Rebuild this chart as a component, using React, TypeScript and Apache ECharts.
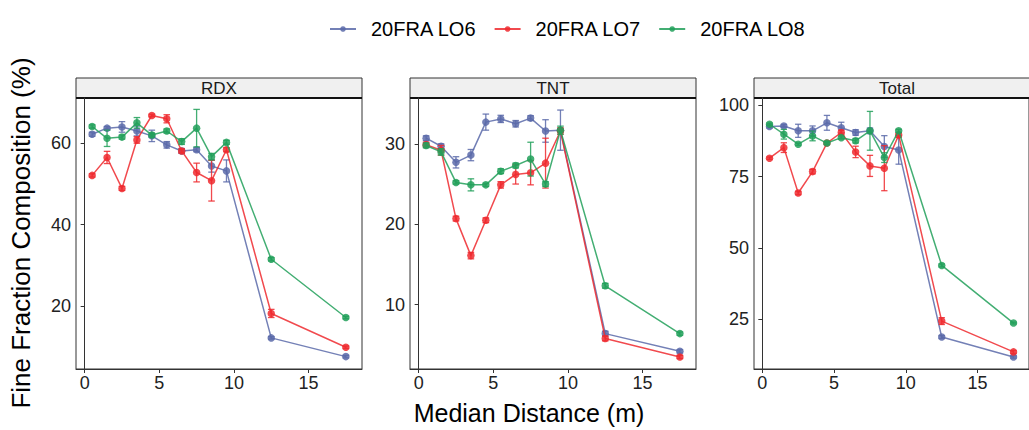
import React, { useEffect, useRef } from "react";
import * as echarts from "echarts";

const distances = [0.5, 1.5, 2.5, 3.5, 4.5, 5.5, 6.5, 7.5, 8.5, 9.5, 12.5, 17.5];
const seriesNames = ["20FRA LO6", "20FRA LO7", "20FRA LO8"];
const panelNames = ["RDX", "TNT", "Total"];
const xTicks = [0, 5, 10, 15];
const yTicksRdx = [20, 40, 60];
const yTicksTnt = [10, 20, 30];
const yTicksTotal = [25, 50, 75, 100];

// RDX
const lo6Rdx = [62.2, 63.7, 64.0, 63.0, 61.8, 59.6, 58.1, 58.4, 54.4, 53.2, 12.2, 7.6];
const lo6RdxErr = [0.5, 0.4, 1.3, 1.2, 1.4, 0.8, 0.6, 0.5, 1.5, 2.7, 0.3, 0.3];
const lo7Rdx = [52.1, 56.5, 48.9, 60.8, 66.8, 66.0, 58.1, 52.8, 50.8, 58.4, 18.2, 9.9];
const lo7RdxErr = [0.4, 1.5, 0.5, 0.8, 0.3, 1.0, 0.5, 2.3, 5.0, 0.5, 1.0, 0.3];
const lo8Rdx = [64.1, 61.2, 61.5, 65.0, 62.0, 63.0, 60.4, 63.7, 56.7, 60.2, 31.5, 17.2];
const lo8RdxErr = [0.4, 2.0, 0.5, 1.3, 0.5, 0.5, 0.7, 4.6, 0.8, 0.5, 0.4, 0.3];

// TNT
const lo6Tnt = [30.7, 29.7, 27.7, 28.6, 32.7, 33.1, 32.5, 33.2, 31.6, 31.7, 6.4, 4.2];
const lo6TntErr = [0.3, 0.3, 0.7, 0.7, 1.0, 0.45, 0.4, 0.3, 1.4, 2.5, 0.3, 0.2];
const lo7Tnt = [29.9, 29.2, 20.7, 16.1, 20.5, 24.9, 26.2, 26.4, 27.6, 31.6, 5.8, 3.5];
const lo7TntErr = [0.3, 0.6, 0.3, 0.4, 0.3, 0.4, 1.2, 1.5, 3.1, 0.4, 0.3, 0.2];
const lo8Tnt = [29.8, 29.0, 25.2, 24.9, 24.9, 26.6, 27.3, 28.1, 25.0, 31.7, 12.35, 6.4];
const lo8TntErr = [0.3, 0.4, 0.2, 0.75, 0.2, 0.3, 0.3, 2.1, 0.3, 0.5, 0.3, 0.2];

// Total
const lo6Tot = [92.6, 92.8, 91.1, 91.1, 93.9, 92.2, 90.5, 91.1, 85.6, 84.4, 18.8, 11.8];
const lo6TotErr = [0.5, 0.5, 2.3, 1.7, 2.6, 1.9, 1.0, 1.0, 3.8, 5.0, 0.5, 0.4];
const lo7Tot = [81.5, 85.2, 69.3, 76.8, 86.8, 90.5, 83.7, 78.8, 78.0, 89.6, 24.4, 13.6];
const lo7TotErr = [0.4, 1.7, 0.6, 0.8, 0.5, 0.8, 2.0, 3.7, 7.9, 0.8, 1.2, 0.5];
const lo8Tot = [93.4, 89.9, 86.4, 89.3, 86.8, 88.7, 87.6, 91.1, 81.7, 91.1, 43.9, 23.7];
const lo8TotErr = [0.4, 1.7, 0.4, 1.7, 0.5, 0.5, 0.8, 6.8, 1.7, 0.5, 0.5, 0.3];

const colors = ["#5b6aa9", "#ee2a2f", "#22a05a"];
const FONT = "'Liberation Sans', Arial, Helvetica, sans-serif";

const panels = [
  { vals: [lo6Rdx, lo7Rdx, lo8Rdx], errs: [lo6RdxErr, lo7RdxErr, lo8RdxErr], ymin: 4.56, ymax: 71.1, yticks: yTicksRdx },
  { vals: [lo6Tnt, lo7Tnt, lo8Tnt], errs: [lo6TntErr, lo7TntErr, lo8TntErr], ymin: 2.0, ymax: 35.7, yticks: yTicksTnt },
  { vals: [lo6Tot, lo7Tot, lo8Tot], errs: [lo6TotErr, lo7TotErr, lo8TotErr], ymin: 7.6, ymax: 102.6, yticks: yTicksTotal },
];

const gridLefts = [76, 410, 754];
const gridWidth = 286;
const gridTop = 98;
const gridHeight = 271;

export default function App() {
  const ref = useRef<HTMLDivElement>(null);
  useEffect(() => {
    if (!ref.current) return;
    const chart = echarts.init(ref.current, null, { renderer: "svg" });

    const grids = gridLefts.map((l) => ({
      left: l,
      top: gridTop,
      width: gridWidth,
      height: gridHeight,
      show: true,
      borderColor: "#333",
      borderWidth: 1,
      backgroundColor: "transparent",
    }));

    const xAxes = gridLefts.map((_, i) => ({
      type: "value",
      gridIndex: i,
      min: -0.58,
      max: 18.58,
      axisLine: { show: true, lineStyle: { color: "#333", width: 1 } },
      axisTick: { show: true, customValues: xTicks, length: 4, lineStyle: { color: "#333" } },
      axisLabel: { customValues: xTicks, fontSize: 18, color: "#222", margin: 5, fontFamily: FONT },
      splitLine: { show: false },
    }));

    const yAxes = panels.map((p, i) => ({
      type: "value",
      gridIndex: i,
      min: p.ymin,
      max: p.ymax,
      axisLine: { show: true, lineStyle: { color: "#333", width: 1 } },
      axisTick: { show: true, customValues: p.yticks, length: 4, lineStyle: { color: "#333" } },
      axisLabel: { customValues: p.yticks, fontSize: 18, color: "#222", margin: 5, fontFamily: FONT },
      splitLine: { show: false },
    }));

    const series: any[] = [];
    panels.forEach((p, pi) => {
      seriesNames.forEach((name, si) => {
        const color = colors[si];
        series.push({
          type: "line",
          name,
          xAxisIndex: pi,
          yAxisIndex: pi,
          z: 2 + si,
          color,
          data: distances.map((d, k) => [d, p.vals[si][k]]),
          symbol: "circle",
          symbolSize: 7.5,
          showSymbol: true,
          lineStyle: { color, width: 1.5, opacity: 0.85 },
          itemStyle: { color, opacity: 0.85 },
        });
        series.push({
          type: "custom",
          name: name + " error",
          xAxisIndex: pi,
          yAxisIndex: pi,
          z: 2 + si,
          data: distances.map((d, k) => [d, p.vals[si][k] - p.errs[si][k], p.vals[si][k] + p.errs[si][k]]),
          renderItem: (params: any, api: any) => {
            const x = api.value(0);
            const lo = api.coord([x, api.value(1)]);
            const hi = api.coord([x, api.value(2)]);
            const hw = api.size([0.22, 0])[0];
            const st = { stroke: color, lineWidth: 1.3, opacity: 0.85 };
            return {
              type: "group",
              children: [
                { type: "line", shape: { x1: lo[0], y1: lo[1], x2: hi[0], y2: hi[1] }, style: st },
                { type: "line", shape: { x1: lo[0] - hw, y1: lo[1], x2: lo[0] + hw, y2: lo[1] }, style: st },
                { type: "line", shape: { x1: hi[0] - hw, y1: hi[1], x2: hi[0] + hw, y2: hi[1] }, style: st },
              ],
            };
          },
        });
      });
    });

    const graphics: any[] = [];
    gridLefts.forEach((l, i) => {
      graphics.push({
        type: "rect",
        shape: { x: l, y: 78, width: gridWidth, height: 20 },
        style: { fill: "#f0f0f0", stroke: "#333", lineWidth: 1 },
      });
      graphics.push({
        type: "line",
        shape: { x1: l, y1: 98, x2: l + gridWidth, y2: 98 },
        style: { stroke: "#111", lineWidth: 2 },
      });
      graphics.push({
        type: "text",
        x: l + gridWidth / 2,
        y: 88.5,
        style: {
          text: panelNames[i],
          fontSize: 17,
          fill: "#1a1a1a",
          fontFamily: FONT,
          align: "center",
          verticalAlign: "middle",
        },
      });
    });
    graphics.push({
      type: "text",
      x: 529,
      y: 413,
      style: {
        text: "Median Distance (m)",
        fontSize: 25,
        fill: "#000",
        fontFamily: FONT,
        align: "center",
        verticalAlign: "middle",
      },
    });
    graphics.push({
      type: "text",
      x: 21,
      y: 233,
      rotation: Math.PI / 2,
      style: {
        text: "Fine Fraction Composition (%)",
        fontSize: 26,
        fill: "#000",
        fontFamily: FONT,
        align: "center",
        verticalAlign: "middle",
      },
    });

    chart.setOption({
      animation: false,
      backgroundColor: "#fff",
      color: colors,
      legend: {
        data: seriesNames,
        left: 324,
        top: 14,
        itemWidth: 26,
        itemHeight: 7,
        itemGap: 17,
        textStyle: { fontSize: 20, color: "#000", fontFamily: FONT, padding: [0, 0, 0, 10] },
      },
      grid: grids,
      xAxis: xAxes,
      yAxis: yAxes,
      series,
      graphic: graphics,
    });
    return () => chart.dispose();
  }, []);

  return (
    <div
      ref={ref}
      style={{ position: "absolute", left: 0, top: 0, width: 1029, height: 430 }}
    />
  );
}
